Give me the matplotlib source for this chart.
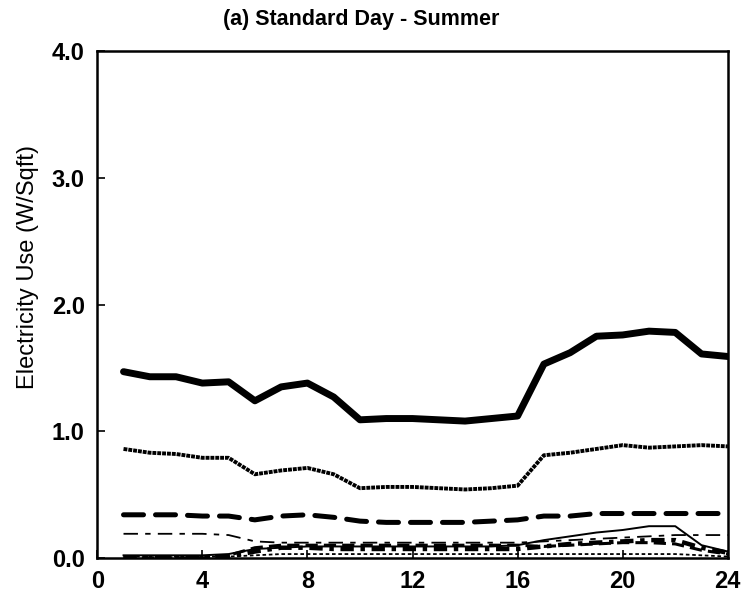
import matplotlib
matplotlib.use("Agg")
import matplotlib.pyplot as plt
from matplotlib import font_manager

# %% Data (hour of day, W/sqft)
hours = list(range(1, 25))

total = [1.47, 1.43, 1.43, 1.38, 1.39, 1.24, 1.35, 1.38, 1.27, 1.09, 1.10, 1.10,
         1.09, 1.08, 1.10, 1.12, 1.53, 1.62, 1.75, 1.76, 1.79, 1.78, 1.61, 1.59]
dotted = [0.86, 0.83, 0.82, 0.79, 0.79, 0.66, 0.69, 0.71, 0.66, 0.55, 0.56, 0.56,
          0.55, 0.54, 0.55, 0.57, 0.81, 0.83, 0.86, 0.89, 0.87, 0.88, 0.89, 0.88]
dashed = [0.34, 0.34, 0.34, 0.33, 0.33, 0.30, 0.33, 0.34, 0.32, 0.29, 0.28, 0.28,
          0.28, 0.28, 0.29, 0.30, 0.33, 0.33, 0.35, 0.35, 0.35, 0.35, 0.35, 0.35]
dashdot = [0.19, 0.19, 0.19, 0.19, 0.18, 0.13, 0.12, 0.12, 0.12, 0.12, 0.12, 0.12,
           0.12, 0.12, 0.12, 0.12, 0.13, 0.14, 0.15, 0.16, 0.17, 0.18, 0.18, 0.18]
thin_solid = [0.02, 0.02, 0.02, 0.02, 0.03, 0.07, 0.08, 0.09, 0.09, 0.09, 0.09, 0.09,
              0.09, 0.09, 0.09, 0.10, 0.14, 0.17, 0.20, 0.22, 0.25, 0.25, 0.10, 0.05]
heavy_dashdot = [0.00, 0.00, 0.00, 0.00, 0.01, 0.05, 0.08, 0.08, 0.07, 0.07, 0.07, 0.07,
                 0.07, 0.07, 0.07, 0.07, 0.09, 0.11, 0.12, 0.13, 0.14, 0.14, 0.08, 0.04]
med_dashed = [0.00, 0.00, 0.00, 0.00, 0.02, 0.08, 0.10, 0.10, 0.10, 0.10, 0.10, 0.10,
              0.10, 0.10, 0.10, 0.10, 0.09, 0.10, 0.11, 0.12, 0.12, 0.11, 0.06, 0.03]
base = [0.01, 0.01, 0.01, 0.01, 0.01, 0.02, 0.03, 0.03, 0.03, 0.03, 0.03, 0.03,
        0.03, 0.03, 0.03, 0.03, 0.03, 0.03, 0.03, 0.03, 0.03, 0.03, 0.02, 0.01]

xticks = [0, 4, 8, 12, 16, 20, 24]
yticks = [0.0, 1.0, 2.0, 3.0, 4.0]

# %% Fonts
names = {f.name for f in font_manager.fontManager.ttflist}
narrow = "Liberation Sans Narrow" if "Liberation Sans Narrow" in names else "Liberation Sans"

# %% Plot
fig = plt.figure(figsize=(7.48, 5.96), dpi=100)
ax = fig.add_axes([0.130, 0.064, 0.843, 0.850])

ax.plot(hours, total, color="black", lw=5.0, solid_capstyle="round", solid_joinstyle="round")
ax.plot(hours, dotted, color="black", lw=2.8, ls=(0, (1.0, 0.25)))
ax.plot(hours, dashed, color="black", lw=3.6, ls=(0, (4, 2.4)), dash_capstyle="round")
ax.plot(hours, dashdot, color="black", lw=1.3, ls=(0, (8, 4, 3, 4)))
ax.plot(hours, thin_solid, color="black", lw=1.4)
ax.plot(hours, heavy_dashdot, color="black", lw=3.2, ls=(0, (3, 1.5, 1, 1.5)))
ax.plot(hours, med_dashed, color="black", lw=2.2, ls=(0, (4, 2)))
ax.plot(hours, base, color="black", lw=1.3, ls=(0, (2, 1.5)))

ax.set_xlim(0, 24)
ax.set_ylim(0, 4)
ax.set_xticks(xticks)
ax.set_yticks(yticks)
ax.set_xticklabels([str(t) for t in xticks], fontfamily=narrow, fontweight="bold", fontsize=17)
ax.set_yticklabels(["%.1f" % t for t in yticks], fontfamily=narrow, fontweight="bold", fontsize=17)
ax.tick_params(direction="in", length=6, width=1.2, pad=9)
for s in ax.spines.values():
    s.set_linewidth(1.8)

ax.set_ylabel("Electricity Use (W/Sqft)", fontfamily="Liberation Sans", fontsize=17)
ax.yaxis.set_label_coords(-0.092, 0.575)
fig.text(361 / 748, 1 - 19 / 596, "(a) Standard Day - Summer", ha="center", va="center",
         fontfamily=narrow, fontweight="bold", fontsize=15.5)

fig.savefig("out.png", dpi=100)
